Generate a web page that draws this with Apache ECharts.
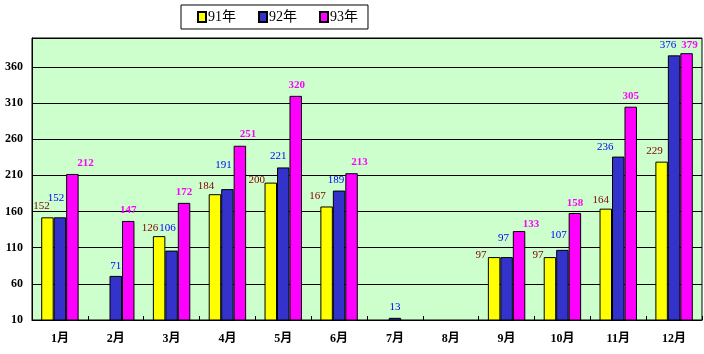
<!DOCTYPE html>
<html><head><meta charset="utf-8">
<script src="https://cdn.jsdelivr.net/npm/echarts@6/dist/echarts.min.js"></script>
<style>html,body{margin:0;padding:0;background:#fff}#c{width:704px;height:354px}</style>
</head><body><div id="c"></div>
<script>
var months = ['1月','2月','3月','4月','5月','6月','7月','8月','9月','10月','11月','12月'];
var seriesNames = ['91年','92年','93年'];
var v91 = [152, null, 126, 184, 200, 167, null, null, 97, 97, 164, 229];
var v92 = [152, 71, 106, 191, 221, 189, 13, null, 97, 107, 236, 376];
var v93 = [212, 147, 172, 251, 320, 213, null, null, 133, 158, 305, 379];

// label nudges (pixels) to mimic the reference's label placement
var dx91 = [-6, 0, -9, -9, -14, -9, 0, 0, -13, -12, -5, -7];
var dy91 = [-1, 0, 2, 2, 8, 0, 0, 0, 9, 9, 2, 0];
var dx92 = [-4, 0, -4, -4, -5, -3, 0, 0, -3, -4, -13, -6];
var dy92 = [-9, 1, -12, -14, -1, 0, 0, 0, -8, -4, 1, 0];
var dx93 = [13, 0, 0, 8, 1, 8, 0, 0, 12, 0, 0, 3];
var dy93 = [0, 0, 0, -1, 0, -1, 0, 0, 4, 1, 0, 2];

var FONT = '"Liberation Serif","Noto Sans CJK SC",serif';

function items(vals, dx, dy) {
  return vals.map(function (v, i) {
    if (v == null) return { value: null };
    return { value: v, label: { offset: [dx[i], dy[i]] } };
  });
}

function mk(name, vals, dx, dy, color, lblColor, bold) {
  return {
    name: name, type: 'bar', data: items(vals, dx, dy),
    barGap: '0%', barCategoryGap: '33%',
    itemStyle: { color: color, borderColor: '#000', borderWidth: 1 },
    label: { show: true, position: 'top', distance: 5, color: lblColor,
      fontFamily: FONT, fontSize: 11, fontWeight: bold ? 'bold' : 'normal' },
    emphasis: { disabled: true }
  };
}

var chart = echarts.init(document.getElementById('c'), null, { renderer: 'canvas' });
chart.setOption({
  animation: false,
  backgroundColor: '#fff',
  legend: {
    data: seriesNames, left: 181, top: 5, icon: 'rect',
    padding: [5, 10, 5, 16], itemGap: 22, itemWidth: 8, itemHeight: 10,
    backgroundColor: '#fff', borderColor: '#000', borderWidth: 1,
    textStyle: { fontFamily: FONT, fontSize: 14, color: '#000', padding: [0, 0, 0, -3] }
  },
  grid: { left: 32, right: 2, top: 38, bottom: 34, show: true,
    backgroundColor: '#CCFFCC', borderColor: '#000', borderWidth: 1, containLabel: false },
  xAxis: {
    type: 'category', data: months,
    axisLine: { lineStyle: { color: '#000', width: 1 } },
    axisTick: { show: true, inside: true, length: 4, lineStyle: { color: '#000' } },
    axisLabel: { fontFamily: FONT, fontSize: 12, fontWeight: 'bold', color: '#000', margin: 13 }
  },
  yAxis: {
    type: 'value', min: 10, max: 400, interval: 50,
    axisLine: { show: true, lineStyle: { color: '#000' } },
    axisTick: { show: false },
    splitLine: { show: true, lineStyle: { color: '#000', width: 1 } },
    axisLabel: { fontFamily: FONT, fontSize: 12, fontWeight: 'bold', color: '#000', margin: 9, showMaxLabel: false }
  },
  series: [
    mk(seriesNames[0], v91, dx91, dy91, '#FFFF00', '#800000', false),
    mk(seriesNames[1], v92, dx92, dy92, '#3333CC', '#0000FF', false),
    mk(seriesNames[2], v93, dx93, dy93, '#FF00FF', '#FF00FF', true)
  ]
});
</script></body></html>
